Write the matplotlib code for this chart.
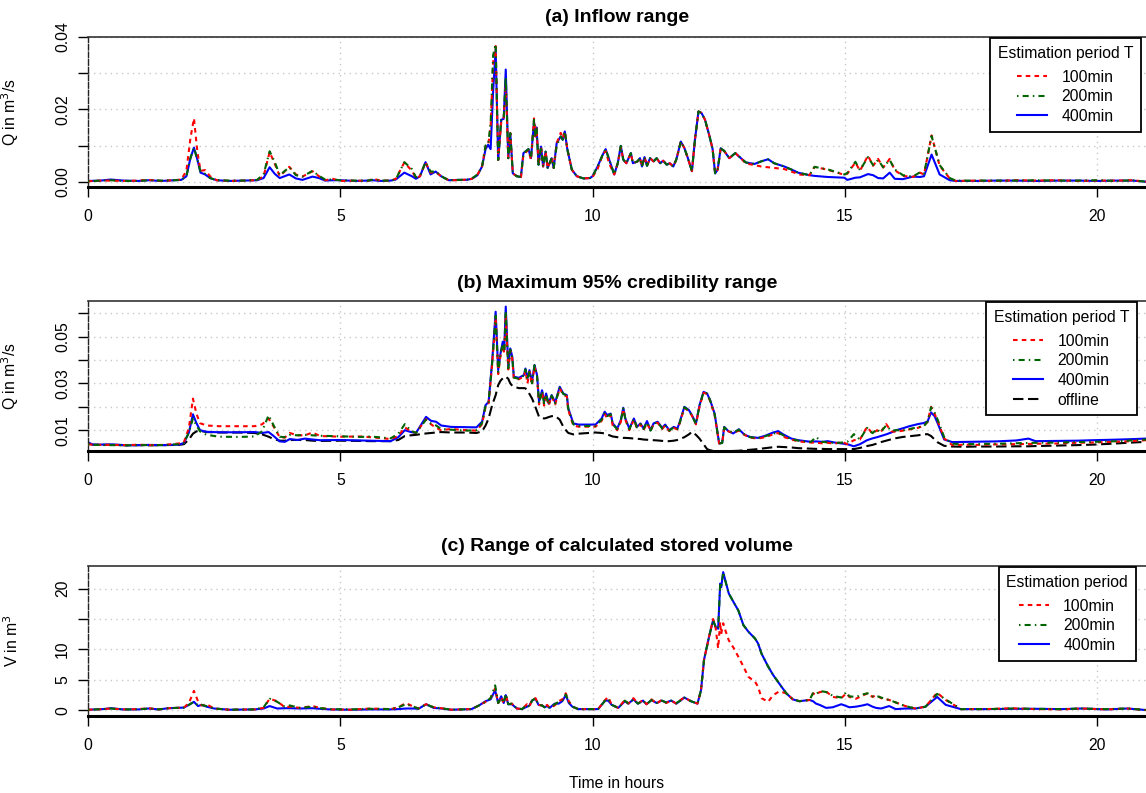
import matplotlib.pyplot as plt

plt.rcParams['font.family'] = ['Liberation Sans', 'DejaVu Sans']

# ---------------- (a) inflow range, Q in m3/s ----------------
t_a = [0.0, 0.25, 0.45, 0.7, 1.0, 1.2, 1.45, 1.7, 1.85, 1.95, 2.03, 2.1, 2.17, 2.23, 2.32,
       2.42, 2.55, 2.8, 3.1, 3.35, 3.48, 3.6, 3.7, 3.8, 3.99, 4.12, 4.25, 4.45, 4.58, 4.7,
       4.85, 5.0, 5.3, 5.55, 5.65, 5.8, 6.0, 6.1, 6.27, 6.42, 6.5, 6.58, 6.69, 6.79, 6.89,
       7.0, 7.15, 7.35, 7.5, 7.61, 7.72, 7.81, 7.88, 7.93, 7.98, 8.03, 8.08, 8.13, 8.19, 8.24,
       8.28, 8.33, 8.37, 8.42, 8.5, 8.58, 8.63, 8.73, 8.78, 8.84, 8.87, 8.89, 8.93, 8.98, 9.02,
       9.07, 9.11, 9.19, 9.23, 9.29, 9.37, 9.41, 9.45, 9.5, 9.59, 9.69, 9.82, 9.95, 10.0, 10.1,
       10.2, 10.26, 10.33, 10.43, 10.5, 10.56, 10.61, 10.67, 10.76, 10.8, 10.89, 10.94, 10.98, 11.03, 11.08,
       11.14, 11.21, 11.27, 11.34, 11.4, 11.47, 11.53, 11.6, 11.66, 11.75, 11.82, 11.89, 11.97, 12.03, 12.1,
       12.16, 12.23, 12.32, 12.38, 12.43, 12.48, 12.54, 12.61, 12.71, 12.83, 12.94, 13.04, 13.21, 13.34, 13.48,
       13.6, 13.8, 14.0, 14.07, 14.3, 14.4, 14.66, 14.99, 15.05, 15.21, 15.3, 15.46, 15.56, 15.66, 15.76,
       15.89, 15.99, 16.15, 16.35, 16.49, 16.57, 16.72, 16.88, 17.08, 17.2, 17.6, 18.0, 18.4, 18.8, 19.2,
       19.6, 20.0, 20.4, 20.7, 20.97]
a_100 = [0.0001, 0.0003, 0.0003, 0.0002, 0.0003, 0.0005, 0.0002, 0.0004, 0.0006, 0.0030, 0.0120, 0.0175, 0.0080, 0.0030, 0.0032,
         0.0015, 0.0004, 0.0002, 0.0003, 0.0004, 0.0015, 0.0082, 0.0050, 0.0015, 0.0041, 0.0020, 0.0014, 0.0029, 0.0015, 0.0004,
         0.0008, 0.0002, 0.0003, 0.0002, 0.0008, 0.0003, 0.0003, 0.0008, 0.0053, 0.0030, 0.0010, 0.0015, 0.0053, 0.0025, 0.0027,
         0.0015, 0.0004, 0.0004, 0.0006, 0.0008, 0.0020, 0.0042, 0.0098, 0.0100, 0.0150, 0.0330, 0.0375, 0.0060, 0.0165, 0.0178,
         0.0270, 0.0065, 0.0134, 0.0023, 0.0015, 0.0010, 0.0075, 0.0088, 0.0060, 0.0175, 0.0125, 0.0150, 0.0047, 0.0097, 0.0042,
         0.0083, 0.0038, 0.0065, 0.0038, 0.0107, 0.0135, 0.0120, 0.0139, 0.0090, 0.0033, 0.0015, 0.0009, 0.0010, 0.0013, 0.0035,
         0.0074, 0.0085, 0.0050, 0.0020, 0.0051, 0.0095, 0.0061, 0.0051, 0.0079, 0.0051, 0.0056, 0.0065, 0.0042, 0.0068, 0.0044,
         0.0065, 0.0056, 0.0065, 0.0051, 0.0058, 0.0047, 0.0051, 0.0042, 0.0061, 0.0111, 0.0093, 0.0065, 0.0029, 0.0116, 0.0194,
         0.0190, 0.0171, 0.0125, 0.0090, 0.0023, 0.0033, 0.0092, 0.0085, 0.0065, 0.0079, 0.0065, 0.0050, 0.0046, 0.0042, 0.0040,
         0.0038, 0.0035, 0.0025, 0.0020, 0.0018, 0.0041, 0.0033, 0.0019, 0.0022, 0.0053, 0.0030, 0.0072, 0.0044, 0.0063, 0.0039,
         0.0063, 0.0032, 0.0016, 0.0013, 0.0025, 0.0020, 0.0128, 0.0044, 0.0009, 0.0002, 0.0003, 0.0002, 0.0004, 0.0003, 0.0004,
         0.0002, 0.0003, 0.0003, 0.0004, 0.0000]
a_200 = [0.0001, 0.0003, 0.0004, 0.0002, 0.0002, 0.0004, 0.0003, 0.0004, 0.0005, 0.0015, 0.0065, 0.0094, 0.0060, 0.0027, 0.0022,
         0.0010, 0.0004, 0.0003, 0.0003, 0.0005, 0.0020, 0.0084, 0.0055, 0.0018, 0.0040, 0.0018, 0.0014, 0.0030, 0.0016, 0.0006,
         0.0006, 0.0004, 0.0003, 0.0003, 0.0006, 0.0003, 0.0003, 0.0006, 0.0054, 0.0035, 0.0012, 0.0016, 0.0054, 0.0028, 0.0028,
         0.0015, 0.0004, 0.0005, 0.0005, 0.0009, 0.0020, 0.0042, 0.0100, 0.0102, 0.0160, 0.0350, 0.0380, 0.0060, 0.0171, 0.0174,
         0.0290, 0.0065, 0.0134, 0.0023, 0.0015, 0.0013, 0.0079, 0.0090, 0.0065, 0.0171, 0.0125, 0.0150, 0.0047, 0.0097, 0.0042,
         0.0083, 0.0038, 0.0065, 0.0038, 0.0100, 0.0125, 0.0116, 0.0139, 0.0090, 0.0033, 0.0015, 0.0009, 0.0010, 0.0015, 0.0042,
         0.0074, 0.0090, 0.0061, 0.0020, 0.0051, 0.0099, 0.0061, 0.0051, 0.0079, 0.0051, 0.0056, 0.0065, 0.0042, 0.0068, 0.0044,
         0.0065, 0.0056, 0.0065, 0.0051, 0.0058, 0.0047, 0.0051, 0.0042, 0.0061, 0.0111, 0.0093, 0.0065, 0.0029, 0.0116, 0.0194,
         0.0190, 0.0171, 0.0125, 0.0090, 0.0023, 0.0033, 0.0092, 0.0085, 0.0065, 0.0079, 0.0065, 0.0053, 0.0049, 0.0056, 0.0062,
         0.0051, 0.0042, 0.0030, 0.0025, 0.0018, 0.0041, 0.0034, 0.0020, 0.0024, 0.0055, 0.0032, 0.0068, 0.0046, 0.0060, 0.0040,
         0.0060, 0.0034, 0.0018, 0.0014, 0.0026, 0.0022, 0.0126, 0.0046, 0.0010, 0.0003, 0.0003, 0.0003, 0.0003, 0.0004, 0.0003,
         0.0003, 0.0004, 0.0002, 0.0004, 0.0000]
a_400 = [0.0002, 0.0003, 0.0006, 0.0003, 0.0002, 0.0004, 0.0002, 0.0004, 0.0005, 0.0015, 0.0065, 0.0094, 0.0060, 0.0025, 0.0020,
         0.0010, 0.0004, 0.0002, 0.0003, 0.0004, 0.0010, 0.0040, 0.0022, 0.0010, 0.0020, 0.0009, 0.0005, 0.0014, 0.0010, 0.0003,
         0.0004, 0.0004, 0.0002, 0.0003, 0.0004, 0.0002, 0.0003, 0.0006, 0.0025, 0.0015, 0.0008, 0.0015, 0.0054, 0.0020, 0.0028,
         0.0015, 0.0004, 0.0005, 0.0005, 0.0008, 0.0018, 0.0042, 0.0090, 0.0102, 0.0090, 0.0250, 0.0366, 0.0060, 0.0171, 0.0174,
         0.0310, 0.0065, 0.0134, 0.0023, 0.0015, 0.0013, 0.0079, 0.0090, 0.0065, 0.0165, 0.0125, 0.0150, 0.0047, 0.0097, 0.0042,
         0.0083, 0.0038, 0.0065, 0.0038, 0.0107, 0.0125, 0.0116, 0.0139, 0.0090, 0.0033, 0.0015, 0.0009, 0.0010, 0.0015, 0.0042,
         0.0074, 0.0090, 0.0061, 0.0020, 0.0051, 0.0099, 0.0061, 0.0051, 0.0079, 0.0051, 0.0056, 0.0065, 0.0042, 0.0068, 0.0044,
         0.0065, 0.0056, 0.0065, 0.0051, 0.0058, 0.0047, 0.0051, 0.0042, 0.0061, 0.0111, 0.0093, 0.0065, 0.0029, 0.0116, 0.0194,
         0.0190, 0.0171, 0.0125, 0.0090, 0.0023, 0.0033, 0.0092, 0.0085, 0.0065, 0.0079, 0.0065, 0.0053, 0.0049, 0.0056, 0.0062,
         0.0051, 0.0042, 0.0030, 0.0025, 0.0018, 0.0016, 0.0013, 0.0011, 0.0005, 0.0011, 0.0012, 0.0021, 0.0018, 0.0010, 0.0009,
         0.0025, 0.0008, 0.0007, 0.0014, 0.0013, 0.0015, 0.0075, 0.0020, 0.0004, 0.0002, 0.0002, 0.0003, 0.0003, 0.0002, 0.0003,
         0.0003, 0.0002, 0.0003, 0.0003, 0.0000]

# ---------------- (b) maximum 95% credibility range ----------------
t_b = [0.0, 0.1, 0.5, 0.8, 1.0, 1.2, 1.5, 1.8, 1.9, 2.0, 2.08, 2.15, 2.22, 2.35, 2.6,
       3.0, 3.3, 3.45, 3.58, 3.68, 3.8, 3.9, 4.0, 4.15, 4.3, 4.45, 4.6, 5.0, 5.4, 5.6,
       6.0, 6.15, 6.28, 6.4, 6.5, 6.7, 6.8, 6.9, 7.0, 7.2, 7.5, 7.7, 7.81, 7.88, 7.94,
       8.01, 8.08, 8.13, 8.17, 8.22, 8.25, 8.28, 8.33, 8.37, 8.41, 8.44, 8.54, 8.64, 8.67, 8.71,
       8.75, 8.8, 8.85, 8.9, 8.94, 9.0, 9.04, 9.08, 9.13, 9.19, 9.26, 9.35, 9.42, 9.49, 9.52,
       9.62, 9.72, 10.06, 10.18, 10.24, 10.29, 10.36, 10.4, 10.49, 10.56, 10.61, 10.65, 10.73, 10.82, 10.88,
       10.95, 11.01, 11.08, 11.15, 11.21, 11.29, 11.38, 11.44, 11.52, 11.61, 11.68, 11.72, 11.82, 11.91, 11.97,
       12.05, 12.12, 12.2, 12.27, 12.33, 12.42, 12.46, 12.51, 12.57, 12.61, 12.69, 12.79, 12.9, 13.01, 13.12,
       13.28, 13.42, 13.58, 13.68, 13.78, 13.94, 14.08, 14.33, 14.43, 14.55, 14.66, 14.8, 14.95, 15.05, 15.18,
       15.3, 15.44, 15.55, 15.64, 15.7, 15.82, 15.92, 16.02, 16.15, 16.28, 16.45, 16.57, 16.64, 16.71, 16.78,
       16.84, 16.97, 17.13, 17.4, 17.6, 18.0, 18.4, 18.64, 18.78, 19.2, 19.6, 19.9, 20.3, 20.6, 20.97]
b_100 = [0.0040, 0.0038, 0.0037, 0.0036, 0.0038, 0.0036, 0.0037, 0.0043, 0.0048, 0.0110, 0.0235, 0.0170, 0.0130, 0.0120, 0.0117,
         0.0117, 0.0117, 0.0125, 0.0150, 0.0115, 0.0070, 0.0068, 0.0088, 0.0078, 0.0078, 0.0090, 0.0075, 0.0072, 0.0073, 0.0070,
         0.0062, 0.0075, 0.0112, 0.0095, 0.0088, 0.0147, 0.0125, 0.0110, 0.0100, 0.0105, 0.0100, 0.0098, 0.0125, 0.0200, 0.0215,
         0.0380, 0.0580, 0.0340, 0.0410, 0.0465, 0.0430, 0.0593, 0.0360, 0.0440, 0.0405, 0.0320, 0.0318, 0.0330, 0.0355, 0.0300,
         0.0350, 0.0295, 0.0372, 0.0330, 0.0210, 0.0265, 0.0205, 0.0250, 0.0205, 0.0245, 0.0210, 0.0280, 0.0250, 0.0245, 0.0185,
         0.0120, 0.0115, 0.0115, 0.0140, 0.0170, 0.0150, 0.0165, 0.0120, 0.0100, 0.0135, 0.0190, 0.0145, 0.0100, 0.0145, 0.0108,
         0.0125, 0.0100, 0.0130, 0.0097, 0.0125, 0.0132, 0.0105, 0.0120, 0.0096, 0.0110, 0.0103, 0.0125, 0.0195, 0.0182, 0.0162,
         0.0125, 0.0200, 0.0260, 0.0255, 0.0225, 0.0165, 0.0110, 0.0043, 0.0045, 0.0110, 0.0095, 0.0088, 0.0098, 0.0080, 0.0068,
         0.0064, 0.0070, 0.0082, 0.0088, 0.0072, 0.0060, 0.0052, 0.0047, 0.0046, 0.0044, 0.0046, 0.0042, 0.0050, 0.0040, 0.0057,
         0.0060, 0.0114, 0.0085, 0.0100, 0.0088, 0.0126, 0.0095, 0.0093, 0.0098, 0.0103, 0.0110, 0.0120, 0.0135, 0.0200, 0.0170,
         0.0140, 0.0065, 0.0036, 0.0038, 0.0037, 0.0039, 0.0040, 0.0041, 0.0042, 0.0043, 0.0046, 0.0047, 0.0050, 0.0052, 0.0057]
b_200 = [0.0040, 0.0037, 0.0036, 0.0035, 0.0036, 0.0036, 0.0036, 0.0040, 0.0045, 0.0090, 0.0150, 0.0120, 0.0095, 0.0080, 0.0072,
         0.0071, 0.0073, 0.0095, 0.0164, 0.0120, 0.0072, 0.0070, 0.0080, 0.0078, 0.0080, 0.0078, 0.0076, 0.0074, 0.0071, 0.0073,
         0.0065, 0.0085, 0.0126, 0.0098, 0.0088, 0.0145, 0.0128, 0.0120, 0.0105, 0.0102, 0.0098, 0.0100, 0.0130, 0.0205, 0.0220,
         0.0385, 0.0590, 0.0350, 0.0415, 0.0470, 0.0440, 0.0610, 0.0365, 0.0445, 0.0410, 0.0325, 0.0320, 0.0334, 0.0360, 0.0315,
         0.0352, 0.0300, 0.0378, 0.0332, 0.0215, 0.0268, 0.0215, 0.0252, 0.0210, 0.0248, 0.0215, 0.0282, 0.0255, 0.0248, 0.0190,
         0.0125, 0.0118, 0.0118, 0.0145, 0.0175, 0.0160, 0.0168, 0.0125, 0.0104, 0.0140, 0.0193, 0.0148, 0.0104, 0.0148, 0.0112,
         0.0126, 0.0105, 0.0134, 0.0098, 0.0126, 0.0135, 0.0107, 0.0122, 0.0098, 0.0112, 0.0105, 0.0126, 0.0198, 0.0184, 0.0162,
         0.0126, 0.0204, 0.0262, 0.0257, 0.0228, 0.0168, 0.0112, 0.0043, 0.0045, 0.0112, 0.0098, 0.0090, 0.0102, 0.0082, 0.0070,
         0.0066, 0.0074, 0.0085, 0.0090, 0.0078, 0.0062, 0.0055, 0.0050, 0.0071, 0.0050, 0.0048, 0.0045, 0.0047, 0.0050, 0.0083,
         0.0060, 0.0110, 0.0087, 0.0105, 0.0090, 0.0120, 0.0098, 0.0100, 0.0099, 0.0105, 0.0113, 0.0118, 0.0137, 0.0198, 0.0175,
         0.0145, 0.0070, 0.0042, 0.0040, 0.0041, 0.0042, 0.0044, 0.0045, 0.0046, 0.0047, 0.0049, 0.0050, 0.0052, 0.0055, 0.0060]
b_400 = [0.0048, 0.0038, 0.0039, 0.0035, 0.0036, 0.0037, 0.0036, 0.0038, 0.0045, 0.0090, 0.0168, 0.0130, 0.0100, 0.0093, 0.0091,
         0.0091, 0.0092, 0.0088, 0.0092, 0.0075, 0.0052, 0.0050, 0.0062, 0.0058, 0.0064, 0.0060, 0.0057, 0.0058, 0.0056, 0.0055,
         0.0053, 0.0070, 0.0100, 0.0092, 0.0088, 0.0157, 0.0140, 0.0136, 0.0120, 0.0114, 0.0113, 0.0112, 0.0136, 0.0207, 0.0221,
         0.0393, 0.0607, 0.0357, 0.0421, 0.0479, 0.0443, 0.0629, 0.0371, 0.0450, 0.0414, 0.0329, 0.0324, 0.0336, 0.0364, 0.0321,
         0.0357, 0.0307, 0.0379, 0.0336, 0.0221, 0.0271, 0.0221, 0.0257, 0.0214, 0.0250, 0.0219, 0.0286, 0.0257, 0.0250, 0.0193,
         0.0129, 0.0124, 0.0124, 0.0150, 0.0179, 0.0165, 0.0171, 0.0129, 0.0107, 0.0143, 0.0196, 0.0150, 0.0107, 0.0150, 0.0114,
         0.0129, 0.0107, 0.0139, 0.0100, 0.0129, 0.0136, 0.0110, 0.0124, 0.0100, 0.0114, 0.0107, 0.0129, 0.0200, 0.0186, 0.0164,
         0.0129, 0.0207, 0.0264, 0.0257, 0.0229, 0.0171, 0.0114, 0.0043, 0.0046, 0.0114, 0.0096, 0.0086, 0.0104, 0.0081, 0.0071,
         0.0067, 0.0076, 0.0090, 0.0096, 0.0082, 0.0064, 0.0057, 0.0050, 0.0052, 0.0050, 0.0053, 0.0047, 0.0043, 0.0040, 0.0031,
         0.0040, 0.0057, 0.0065, 0.0070, 0.0074, 0.0082, 0.0090, 0.0100, 0.0108, 0.0117, 0.0126, 0.0131, 0.0137, 0.0176, 0.0160,
         0.0130, 0.0060, 0.0049, 0.0050, 0.0051, 0.0052, 0.0056, 0.0064, 0.0053, 0.0054, 0.0055, 0.0057, 0.0059, 0.0061, 0.0064]
b_off = [0.0042, 0.0038, 0.0037, 0.0035, 0.0036, 0.0035, 0.0036, 0.0037, 0.0040, 0.0060, 0.0085, 0.0095, 0.0097, 0.0092, 0.0090,
         0.0090, 0.0088, 0.0082, 0.0072, 0.0062, 0.0055, 0.0055, 0.0058, 0.0058, 0.0058, 0.0055, 0.0054, 0.0055, 0.0054, 0.0053,
         0.0053, 0.0058, 0.0075, 0.0078, 0.0080, 0.0086, 0.0088, 0.0090, 0.0092, 0.0090, 0.0090, 0.0088, 0.0095, 0.0120, 0.0150,
         0.0207, 0.0250, 0.0293, 0.0310, 0.0322, 0.0328, 0.0329, 0.0320, 0.0300, 0.0290, 0.0286, 0.0280, 0.0280, 0.0279, 0.0270,
         0.0255, 0.0236, 0.0210, 0.0180, 0.0157, 0.0153, 0.0150, 0.0152, 0.0156, 0.0160, 0.0161, 0.0145, 0.0115, 0.0095, 0.0088,
         0.0082, 0.0085, 0.0090, 0.0088, 0.0086, 0.0082, 0.0076, 0.0073, 0.0070, 0.0068, 0.0067, 0.0067, 0.0066, 0.0064, 0.0063,
         0.0062, 0.0060, 0.0059, 0.0058, 0.0057, 0.0056, 0.0054, 0.0053, 0.0053, 0.0055, 0.0058, 0.0061, 0.0070, 0.0082, 0.0093,
         0.0080, 0.0064, 0.0040, 0.0019, 0.0014, 0.0011, 0.0010, 0.0010, 0.0010, 0.0010, 0.0010, 0.0011, 0.0012, 0.0014, 0.0016,
         0.0019, 0.0023, 0.0027, 0.0029, 0.0028, 0.0026, 0.0023, 0.0021, 0.0020, 0.0020, 0.0019, 0.0019, 0.0019, 0.0019, 0.0019,
         0.0024, 0.0032, 0.0037, 0.0043, 0.0048, 0.0055, 0.0061, 0.0066, 0.0071, 0.0074, 0.0078, 0.0082, 0.0083, 0.0075, 0.0060,
         0.0048, 0.0033, 0.0030, 0.0029, 0.0030, 0.0030, 0.0031, 0.0031, 0.0032, 0.0034, 0.0036, 0.0038, 0.0042, 0.0046, 0.0050]

# ---------------- (c) calculated stored volume, V in m3 ----------------
t_c = [0.0, 0.3, 0.45, 0.7, 1.0, 1.2, 1.4, 1.6, 1.9, 2.0, 2.1, 2.18, 2.25, 2.35, 2.5,
       2.8, 3.3, 3.48, 3.6, 3.75, 3.9, 4.0, 4.2, 4.45, 4.6, 4.8, 5.2, 5.6, 6.0, 6.15,
       6.3, 6.45, 6.55, 6.7, 6.85, 7.0, 7.2, 7.6, 7.75, 7.88, 7.98, 8.07, 8.13, 8.19, 8.24,
       8.28, 8.33, 8.4, 8.5, 8.6, 8.7, 8.75, 8.8, 8.87, 8.93, 9.0, 9.05, 9.1, 9.15, 9.25,
       9.33, 9.4, 9.47, 9.53, 9.6, 9.72, 10.11, 10.25, 10.31, 10.38, 10.51, 10.64, 10.71, 10.81, 10.9,
       11.0, 11.07, 11.17, 11.27, 11.37, 11.46, 11.56, 11.66, 11.76, 11.82, 11.95, 12.08, 12.15, 12.21, 12.31,
       12.39, 12.44, 12.49, 12.53, 12.55, 12.59, 12.63, 12.7, 12.8, 12.89, 12.99, 13.09, 13.22, 13.28, 13.35,
       13.48, 13.58, 13.7, 13.84, 13.97, 14.1, 14.3, 14.37, 14.43, 14.5, 14.63, 14.76, 14.93, 15.03, 15.09,
       15.22, 15.35, 15.45, 15.55, 15.62, 15.72, 15.88, 16.01, 16.2, 16.4, 16.6, 16.83, 17.0, 17.3, 17.8,
       18.3, 18.8, 19.3, 19.7, 20.2, 20.6, 20.97]
c_100 = [0.1, 0.2, 0.3, 0.15, 0.2, 0.35, 0.15, 0.35, 0.45, 1.2, 3.2, 1.5, 0.8, 1.0, 0.3,
         0.1, 0.15, 0.4, 1.9, 1.5, 0.5, 0.6, 0.4, 0.7, 0.4, 0.15, 0.1, 0.3, 0.2, 0.5,
         1.2, 0.6, 0.3, 1.0, 0.5, 0.35, 0.1, 0.2, 0.8, 1.4, 2.0, 3.6, 1.2, 2.2, 1.1,
         2.6, 1.0, 1.1, 0.3, 0.2, 1.0, 0.6, 1.7, 2.0, 0.9, 0.8, 0.5, 0.9, 0.4, 0.8,
         1.5, 1.8, 2.8, 1.5, 0.6, 0.2, 0.2, 1.7, 2.2, 0.9, 0.4, 1.7, 1.1, 2.0, 1.1,
         1.7, 1.0, 1.8, 1.1, 1.7, 1.2, 1.6, 1.1, 1.8, 2.1, 1.5, 1.1, 3.3, 8.3, 12.1,
         15.0, 13.5, 10.2, 14.5, 12.5, 14.3, 13.2, 11.5, 10.2, 8.8, 7.2, 5.5, 4.7, 3.9, 2.0,
         1.4, 2.5, 3.1, 2.8, 1.8, 1.5, 1.7, 2.8, 2.5, 3.0, 3.1, 2.2, 2.0, 2.8, 2.2,
         1.9, 2.4, 2.8, 2.2, 2.5, 2.0, 1.7, 1.3, 0.7, 0.3, 0.6, 2.9, 1.7, 0.2, 0.2,
         0.35, 0.2, 0.15, 0.3, 0.15, 0.3, 0.05]
c_200 = [0.1, 0.2, 0.3, 0.15, 0.15, 0.3, 0.15, 0.35, 0.45, 0.9, 1.4, 0.8, 0.9, 0.7, 0.3,
         0.1, 0.15, 0.5, 1.9, 1.4, 0.6, 0.8, 0.4, 0.6, 0.35, 0.2, 0.15, 0.25, 0.2, 0.5,
         1.0, 0.6, 0.3, 1.0, 0.5, 0.35, 0.1, 0.2, 0.8, 1.4, 2.0, 4.1, 1.2, 2.0, 1.2,
         2.7, 1.0, 1.1, 0.3, 0.2, 0.9, 0.6, 1.6, 2.0, 0.9, 0.8, 0.5, 0.8, 0.4, 1.0,
         1.4, 1.6, 2.6, 1.4, 0.6, 0.2, 0.2, 1.6, 1.9, 0.9, 0.4, 1.6, 1.1, 1.8, 1.1,
         1.6, 1.0, 1.7, 1.2, 1.6, 1.3, 1.6, 1.2, 1.7, 2.1, 1.5, 1.1, 3.3, 8.3, 12.1,
         14.8, 13.7, 13.4, 20.6, 20.2, 22.7, 21.3, 19.2, 17.7, 16.4, 14.0, 12.9, 11.8, 11.0, 9.3,
         7.2, 5.8, 4.4, 2.8, 1.8, 1.5, 1.7, 2.8, 2.6, 3.2, 3.0, 2.4, 2.1, 3.0, 2.3,
         2.2, 2.6, 2.8, 2.3, 2.4, 2.1, 1.7, 1.3, 0.7, 0.3, 0.6, 2.7, 1.8, 0.2, 0.2,
         0.3, 0.25, 0.2, 0.3, 0.2, 0.3, 0.05]
c_400 = [0.1, 0.2, 0.35, 0.15, 0.15, 0.3, 0.15, 0.35, 0.45, 0.9, 1.4, 0.7, 0.9, 0.6, 0.3,
         0.1, 0.15, 0.3, 0.7, 0.3, 0.35, 0.35, 0.3, 0.35, 0.25, 0.15, 0.1, 0.15, 0.15, 0.2,
         0.3, 0.3, 0.25, 1.0, 0.4, 0.3, 0.1, 0.2, 0.8, 1.5, 1.8, 3.3, 1.2, 2.3, 1.2,
         2.5, 1.0, 1.0, 0.3, 0.2, 0.6, 0.8, 1.6, 1.9, 0.9, 0.8, 0.5, 0.7, 0.4, 1.1,
         1.1, 1.5, 2.5, 1.2, 0.6, 0.2, 0.2, 1.6, 1.6, 0.9, 0.4, 1.5, 1.1, 1.8, 1.1,
         1.6, 1.0, 1.7, 1.2, 1.6, 1.3, 1.6, 1.1, 1.7, 2.1, 1.5, 1.1, 3.3, 8.3, 12.1,
         14.8, 13.7, 13.4, 20.8, 20.2, 22.7, 21.4, 19.2, 17.7, 16.4, 14.0, 12.9, 11.8, 11.0, 9.3,
         7.2, 5.8, 4.4, 2.8, 1.8, 1.5, 1.7, 1.5, 1.1, 0.9, 0.4, 0.5, 1.0, 0.7, 0.5,
         0.6, 0.8, 1.0, 0.6, 0.4, 0.3, 0.7, 0.2, 0.3, 0.3, 0.6, 2.2, 0.9, 0.2, 0.2,
         0.25, 0.25, 0.2, 0.3, 0.15, 0.3, 0.05]

x_ticks = [0, 5, 10, 15, 20]
legend_title = ['Estimation period T', 'Estimation period T', 'Estimation period']
period_labels = ['100min', '200min', '400min']

RED, GREEN, BLUE = '#FF0000', '#006400', '#0000FF'
LW = 1.5
FS = 11.3

W, H = 1146, 793
fig = plt.figure(figsize=(W / 100, H / 100), dpi=100)


def panel(top, bottom):
    return fig.add_axes([88 / W, 1 - bottom / H, (W - 88) / W, (bottom - top) / H])


def r_style(ax, ylim, yticks, ylabels, ylabel, title, title_gap):
    ax.set_xlim(0, 20.97)
    ax.set_ylim(*ylim)
    ax.set_xticks(x_ticks)
    ax.set_xticklabels([str(v) for v in x_ticks], fontsize=FS)
    ax.set_yticks(yticks)
    ax.set_yticklabels(ylabels, fontsize=FS, rotation=90, va='center')
    ax.tick_params(axis='both', direction='out', length=7, width=1, colors='black')
    ax.tick_params(axis='x', pad=9)
    ax.tick_params(axis='y', pad=6)
    for v in x_ticks:
        ax.axvline(v, color='#C8C8C8', lw=1, ls=(0, (1, 3)), zorder=0)
    for v in yticks:
        ax.axhline(v, color='#C8C8C8', lw=1, ls=(0, (1, 3)), zorder=0)
    ax.spines['right'].set_visible(False)
    ax.spines['top'].set_color('#333333')
    ax.spines['top'].set_linewidth(1.2)
    ax.spines['left'].set_color('#222222')
    ax.spines['left'].set_linewidth(1.0)
    ax.spines['left'].set_linestyle((0, (4, 1.5)))
    ax.spines['bottom'].set_linewidth(2.2)
    ax.set_ylabel(ylabel, fontsize=FS)
    ax.yaxis.set_label_coords(-67 / (W - 88), 0.5)
    h_px = ax.get_position().height * H
    ax.text(0.5, 1.0 + title_gap / h_px, title, transform=ax.transAxes,
            ha='center', va='bottom', fontsize=14, fontweight='bold')


def draw_periods(ax, t, s100, s200, s400):
    l1, = ax.plot(t, s100, color=RED, lw=LW, dashes=(2.2, 2.0), label=period_labels[0], zorder=3)
    l2, = ax.plot(t, s200, color=GREEN, lw=LW, dashes=(0.7, 2.0, 2.9, 2.0), label=period_labels[1], zorder=4)
    l3, = ax.plot(t, s400, color=BLUE, lw=LW, label=period_labels[2], zorder=2)
    return [l1, l2, l3]


def add_legend(ax, handles, title, right_px, top_px):
    leg = ax.legend(handles=handles, title=title, loc='upper right',
                    bbox_to_anchor=(right_px / W, 1 - top_px / H), bbox_transform=fig.transFigure,
                    frameon=True, fancybox=False, edgecolor='black', framealpha=1,
                    fontsize=FS, title_fontsize=FS, handlelength=1.9, handletextpad=0.9,
                    labelspacing=0.29, borderpad=0.5, borderaxespad=0)
    leg.get_frame().set_linewidth(1.3)
    # extra room between the legend title and the first entry
    leg._legend_box.sep = 6.5
    return leg


# (a)
ax_a = panel(37, 187)
h = draw_periods(ax_a, t_a, a_100, a_200, a_400)
r_style(ax_a, (-0.00147, 0.0400), [0.00, 0.01, 0.02, 0.03, 0.04],
        ['0.00', '', '0.02', '', '0.04'], 'Q in m$^3$/s', '(a) Inflow range', 11)
add_legend(ax_a, h, legend_title[0], 1141, 38)

# (b)
ax_b = panel(301, 450.5)
h = draw_periods(ax_b, t_b, b_100, b_200, b_400)
l_off, = ax_b.plot(t_b, b_off, color='black', lw=LW, dashes=(5.0, 2.2), label='offline', zorder=1)
r_style(ax_b, (0.0013, 0.0653), [0.01, 0.02, 0.03, 0.04, 0.05, 0.06],
        ['0.01', '', '0.03', '', '0.05', ''], 'Q in m$^3$/s', '(b) Maximum 95% credibility range', 9)
add_legend(ax_b, h + [l_off], legend_title[1], 1137, 302)

# (c)
ax_c = panel(566, 716)
h = draw_periods(ax_c, t_c, c_100, c_200, c_400)
r_style(ax_c, (-0.93, 23.7), [0, 5, 10, 15, 20],
        ['0', '5', '10', '', '20'], 'V in m$^3$', '(c) Range of calculated stored volume', 11)
add_legend(ax_c, h, legend_title[2], 1136, 567)

fig.text(617 / W, 1 - 783 / H, 'Time in hours', ha='center', va='center', fontsize=FS)

fig.savefig('out.png', dpi=100)
